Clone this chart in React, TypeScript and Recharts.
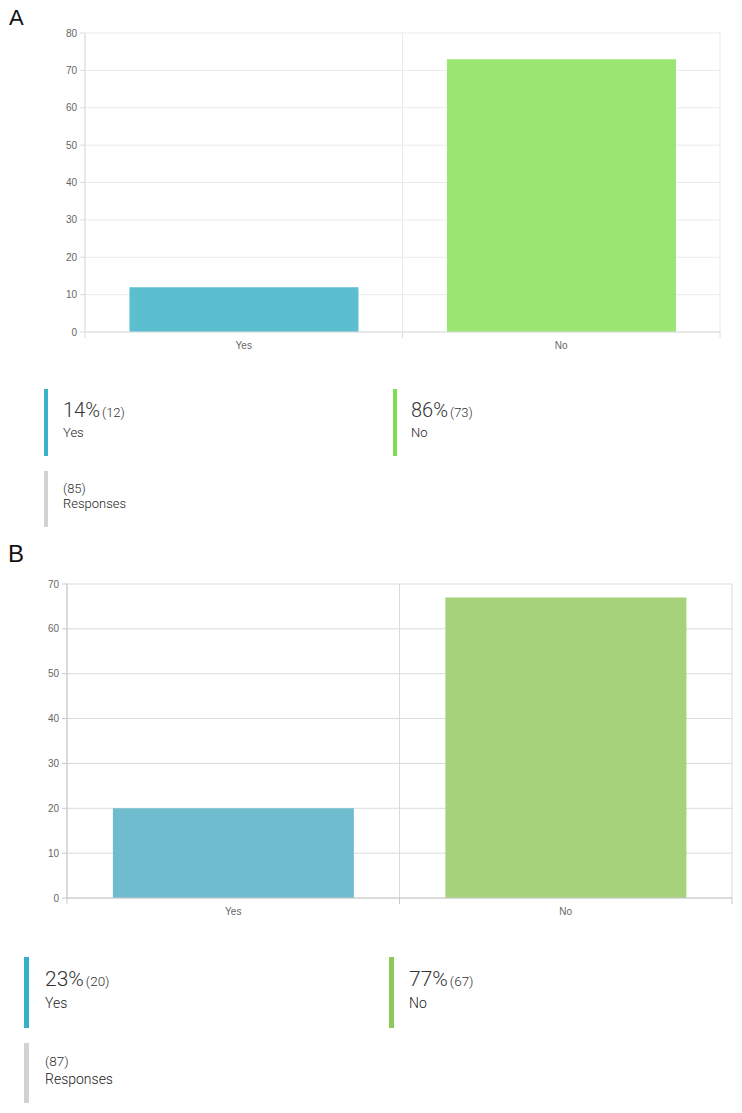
import React from "react";
import { BarChart, Bar, Cell, XAxis, YAxis, CartesianGrid } from "recharts";

const CATEGORIES = ["Yes", "No"];
const COUNTS_A = [12, 73];
const COUNTS_B = [20, 67];
const TICKS_A = [0, 10, 20, 30, 40, 50, 60, 70, 80];
const TICKS_B = [0, 10, 20, 30, 40, 50, 60, 70];

const BAR_COLORS_A = ["#5cbfd0", "#9ae673"];
const BAR_COLORS_B = ["#6fbccf", "#a6d27c"];
const KEY_COLORS_A = ["#39b3c8", "#7ddf4f"];
const KEY_COLORS_B = ["#34b0c9", "#8cc95a"];
const KEY_GREY = "#d2d2d2";

const X_H = 28;
const TICK_FONT = "'Liberation Sans', Arial, Helvetica, sans-serif";
const TEXT_FONT = "Roboto, 'Noto Sans', sans-serif";

type PanelProps = {
  top: number;
  width: number;
  height: number;
  margin: { top: number; right: number; left: number; bottom: number };
  yWidth: number;
  counts: number[];
  ticks: number[];
  colors: string[];
  grid: string;
  axis: string;
  gap: string;
};

function Panel({ top, width, height, margin, yWidth, counts, ticks, colors, grid, axis, gap }: PanelProps) {
  const data = CATEGORIES.map((name, i) => ({ name, value: counts[i] }));
  const plotLeft = margin.left + yWidth;
  const plotRight = width - margin.right;
  const plotBottom = height - margin.bottom - X_H;
  const band = (plotRight - plotLeft) / CATEGORIES.length;

  const CatTick = (p: any) => {
    const { x, payload, index } = p;
    return (
      <g>
        <line x1={x - band / 2} x2={x - band / 2} y1={plotBottom} y2={plotBottom + 6} stroke={axis} />
        {index === CATEGORIES.length - 1 && (
          <line x1={x + band / 2} x2={x + band / 2} y1={plotBottom} y2={plotBottom + 6} stroke={axis} />
        )}
        <text x={x} y={plotBottom + 10} dy="0.71em" textAnchor="middle" fill="#666" fontSize={10} fontFamily={TICK_FONT}>
          {payload.value}
        </text>
      </g>
    );
  };

  return (
    <div style={{ position: "absolute", left: 0, top }}>
      <BarChart width={width} height={height} data={data} margin={margin} barCategoryGap={gap}>
        <CartesianGrid
          stroke={grid}
          verticalCoordinatesGenerator={({ offset }: any) => [
            offset.left,
            offset.left + offset.width / 2,
            offset.left + offset.width,
          ]}
        />
        <XAxis
          dataKey="name"
          height={X_H}
          stroke={axis}
          tickLine={false}
          interval={0}
          tick={<CatTick />}
        />
        <YAxis
          width={yWidth}
          domain={[0, ticks[ticks.length - 1]]}
          ticks={ticks}
          interval={0}
          stroke={axis}
          tickSize={5}
          tickMargin={3}
          tick={{ fill: "#666", fontSize: 10, fontFamily: TICK_FONT }}
        />
        <Bar dataKey="value" isAnimationActive={false}>
          {data.map((d, i) => (
            <Cell key={d.name} fill={colors[i]} />
          ))}
        </Bar>
      </BarChart>
    </div>
  );
}

type KeyProps = {
  barLeft: number;
  barTop: number;
  barH: number;
  barW: number;
  color: string;
  textLeft: number;
  big?: string;
  small: string;
  label: string;
  bigSize: number;
  smallSize: number;
  labelSize: number;
  firstTop: number;
  labelTop: number;
};

function KeyItem(k: KeyProps) {
  return (
    <>
      <div
        style={{
          position: "absolute",
          left: k.barLeft,
          top: k.barTop,
          width: k.barW,
          height: k.barH,
          background: k.color,
        }}
      />
      <div
        style={{
          position: "absolute",
          left: k.textLeft,
          top: k.firstTop,
          display: "flex",
          alignItems: "baseline",
          fontFamily: TEXT_FONT,
          lineHeight: 1,
          color: "#333",
          whiteSpace: "nowrap",
        }}
      >
        {k.big && <span style={{ fontSize: k.bigSize, fontWeight: 300 }}>{k.big}</span>}
        <span style={{ fontSize: k.smallSize, fontWeight: 300, marginLeft: k.big ? 2 : 0, color: "#333" }}>{k.small}</span>
      </div>
      <div
        style={{
          position: "absolute",
          left: k.textLeft,
          top: k.labelTop,
          fontFamily: TEXT_FONT,
          fontSize: k.labelSize,
          fontWeight: 300,
          lineHeight: 1,
          color: "#222",
          whiteSpace: "nowrap",
        }}
      >
        {k.label}
      </div>
    </>
  );
}

const pct = (v: number, total: number) => `${Math.round((v / total) * 100)}%`;
const sum = (a: number[]) => a.reduce((s, v) => s + v, 0);

export default function App() {
  const totalA = sum(COUNTS_A);
  const totalB = sum(COUNTS_B);
  return (
    <div style={{ position: "absolute", left: 0, top: 0, width: 742, height: 1113, background: "#fff" }}>
      <div style={{ position: "absolute", left: 9, top: 7, fontFamily: TICK_FONT, fontSize: 22, lineHeight: 1, color: "#111" }}>
        A
      </div>
      <Panel
        top={0}
        width={742}
        height={360}
        margin={{ top: 33, right: 22, left: 45, bottom: 0 }}
        yWidth={40}
        counts={COUNTS_A}
        ticks={TICKS_A}
        colors={BAR_COLORS_A}
        grid="#ebebeb"
        axis="#dcdcdc"
        gap="14%"
      />
      {CATEGORIES.map((c, i) => (
        <KeyItem
          key={"a" + c}
          barLeft={i === 0 ? 44 : 393}
          barTop={389}
          barH={67}
          barW={4}
          color={KEY_COLORS_A[i]}
          textLeft={i === 0 ? 63 : 411}
          big={pct(COUNTS_A[i], totalA)}
          small={`(${COUNTS_A[i]})`}
          label={c}
          bigSize={20}
          smallSize={13}
          labelSize={13}
          firstTop={400}
          labelTop={426}
        />
      ))}
      <KeyItem
        barLeft={44}
        barTop={471}
        barH={56}
        barW={4}
        color={KEY_GREY}
        textLeft={63}
        small={`(${totalA})`}
        label="Responses"
        bigSize={20}
        smallSize={13}
        labelSize={13}
        firstTop={482}
        labelTop={497}
      />

      <div style={{ position: "absolute", left: 8, top: 542, fontFamily: TICK_FONT, fontSize: 24, lineHeight: 1, color: "#111" }}>
        B
      </div>
      <Panel
        top={550}
        width={742}
        height={376}
        margin={{ top: 34, right: 10, left: 27, bottom: 0 }}
        yWidth={40}
        counts={COUNTS_B}
        ticks={TICKS_B}
        colors={BAR_COLORS_B}
        grid="#dadada"
        axis="#c8c8c8"
        gap="13.8%"
      />
      {CATEGORIES.map((c, i) => (
        <KeyItem
          key={"b" + c}
          barLeft={i === 0 ? 24 : 389}
          barTop={957}
          barH={71}
          barW={5}
          color={KEY_COLORS_B[i]}
          textLeft={i === 0 ? 45 : 409}
          big={pct(COUNTS_B[i], totalB)}
          small={`(${COUNTS_B[i]})`}
          label={c}
          bigSize={21}
          smallSize={13.5}
          labelSize={14}
          firstTop={969}
          labelTop={996}
        />
      ))}
      <KeyItem
        barLeft={24}
        barTop={1043}
        barH={60}
        barW={5}
        color={KEY_GREY}
        textLeft={45}
        small={`(${totalB})`}
        label="Responses"
        bigSize={21}
        smallSize={13.5}
        labelSize={14}
        firstTop={1055}
        labelTop={1072}
      />
    </div>
  );
}
